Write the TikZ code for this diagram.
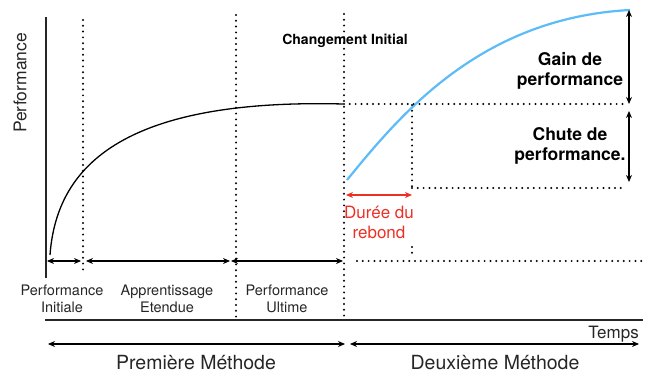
\documentclass[tikz,border=0pt]{standalone}
\usepackage{fontspec}
\setmainfont{TeX Gyre Heros}
\usepackage{tikz}
\usetikzlibrary{arrows.meta}
\definecolor{bleuciel}{RGB}{92,188,248}
\definecolor{rougerebond}{RGB}{236,48,36}
\tikzset{
    axe/.style = {line width=1.2pt, draw=black!85},
    pointille/.style = {line width=2.2pt, line cap=round, dash pattern=on 0pt off 5.8pt},
    fleche/.style = {line width=1.1pt, <->, >={Stealth[length=7pt,width=6pt]}},
    phase/.style = {align=center, text=black!85, font=\fontsize{14.5}{16.5}\selectfont},
    methode/.style = {inner sep=0pt, text=black!85, font=\fontsize{19.5}{22}\selectfont},
    legende/.style = {align=center, font=\bfseries\fontsize{17.5}{20}\selectfont},
    rebond/.style = {align=center, text=rougerebond, font=\fontsize{17}{20}\selectfont},
    courbe/.style = {line width=1.3pt}
}

\begin{document}
\begin{tikzpicture}[x=1pt, y=-1pt]
\useasboundingbox (0,0) rectangle (648,374);

% axes
\coordinate (yhaut) at (46,17);
\coordinate (ybas) at (46,278);
\coordinate (xgauche) at (45,320);
\coordinate (xdroite) at (643,320);
\draw [axe] (yhaut) -- (ybas);
\draw [axe] (xgauche) -- (xdroite);

% courbes
\coordinate (debut1) at (50,255);
\coordinate (fin1) at (343,104);
\coordinate (debut2) at (347,180);
\coordinate (fin2) at (630,10);
\draw [courbe] (debut1) .. controls (56,175) and (110,98) .. (fin1);
\draw [courbe, bleuciel, line width=2.2pt] (debut2) .. controls (400,115) and (480,18) .. (fin2);

% pointilles
\draw [pointille] (83,20) -- (83,273);
\draw [pointille] (236,15) -- (236,320);
\draw [pointille] (344,14) -- (344,320);
\draw [pointille] (344,104) -- (625,104);
\draw [pointille] (412,188) -- (625,188);
\draw [pointille] (412,105) -- (412,188);
\draw [pointille] (412,247) -- (412,255);
\draw [pointille] (357,261) -- (643,261);

% phases
\coordinate (a0) at (47,261);
\coordinate (a1) at (81,261);
\coordinate (a2) at (86,261);
\coordinate (a3) at (230,261);
\coordinate (a4) at (231,261);
\coordinate (a5) at (343,261);
\draw [fleche] (a0) -- (a1);
\draw [fleche] (a2) -- (a3);
\draw [fleche] (a4) -- (a5);

% methodes
\coordinate (m0) at (48,344);
\coordinate (m1) at (345,344);
\coordinate (m2) at (350,344);
\coordinate (m3) at (639,344);
\draw [fleche] (m0) -- (m1);
\draw [fleche] (m2) -- (m3);

% gain et chute
\coordinate (g0) at (629,10);
\coordinate (g1) at (629,104);
\coordinate (c0) at (629,111);
\coordinate (c1) at (629,182);
\draw [fleche] (g0) -- (g1);
\draw [fleche] (c0) -- (c1);

% rebond
\coordinate (r0) at (346,195);
\coordinate (r1) at (412,195);
\draw [fleche, rougerebond, line width=1.2pt] (r0) -- (r1);

% textes
\node (perf) [rotate=90, text=black!85, font=\fontsize{17.5}{20}\selectfont] at (20,83) {Performance};
\node (changement) [font=\bfseries\fontsize{14}{16}\selectfont] at (345,41) {Changement Initial};
\node (gain) [legende] at (570,71) {Gain de\\performance};
\node (chute) [legende] at (570,146) {Chute de\\performance.};
\node (duree) [rebond] at (379,222) {Durée du\\rebond};
\node (initiale) [phase] at (62,299) {Performance\\Initiale};
\node (etendue) [phase] at (167,299) {Apprentissage\\Etendue};
\node (ultime) [phase] at (287,299) {Performance\\Ultime};
\node (temps) [anchor=east, inner sep=0pt, text=black!85, font=\fontsize{17}{20}\selectfont] at (639,334) {Temps};
\node (premiere) [methode] at (196,363) {Première Méthode};
\node (deuxieme) [methode] at (495,363) {Deuxième Méthode};
\end{tikzpicture}
\end{document}
